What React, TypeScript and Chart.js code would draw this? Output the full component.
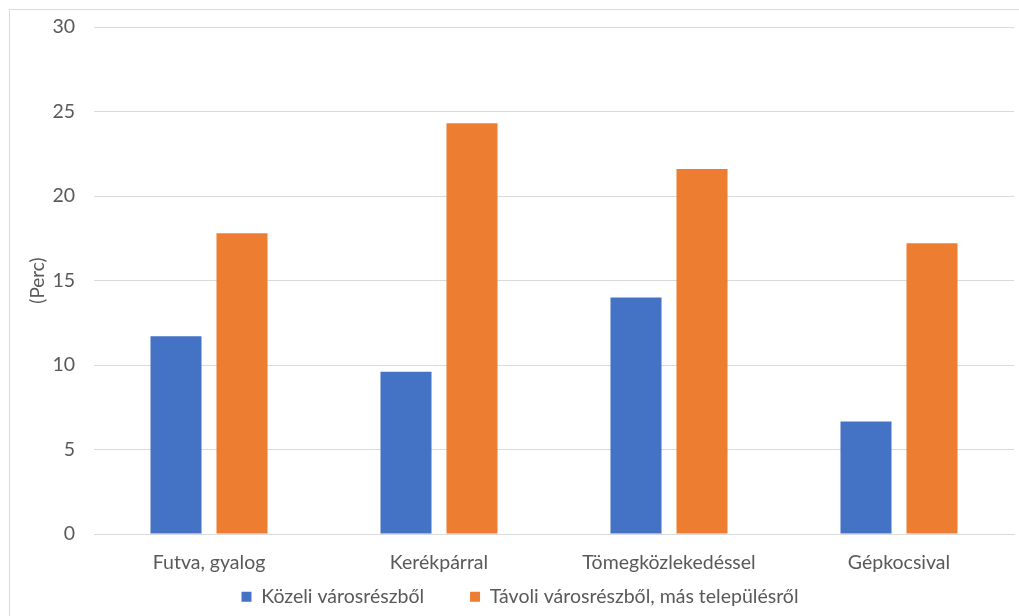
import React, { useEffect, useRef } from "react";
import { Chart, registerables } from "chart.js";

Chart.register(...registerables);

const categories = ["Futva, gyalog", "Kerékpárral", "Tömegközlekedéssel", "Gépkocsival"];
const seriesNames = ["Közeli városrészből", "Távoli városrészből, más településről"];
const nearValues = [11.7, 9.6, 14.0, 6.65];
const farValues = [17.8, 24.3, 21.6, 17.2];
const yTitle = "(Perc)";
const yMin = 0;
const yMax = 30;
const yStep = 5;

const FONT = "Lato, 'Open Sans', sans-serif";
const TEXT = "#595959";

const LEGEND_SHIFT = 37;

const shiftLegend = {
  id: "shiftLegend",
  afterLayout(chart: any) {
    const l = chart.legend;
    if (l) {
      l.top -= LEGEND_SHIFT;
      l.bottom -= LEGEND_SHIFT;
    }
  },
};

export default function App() {
  const ref = useRef<HTMLCanvasElement | null>(null);

  useEffect(() => {
    if (!ref.current) return;
    const chart = new Chart(ref.current, {
      type: "bar",
      plugins: [shiftLegend],
      data: {
        labels: categories,
        datasets: [
          {
            label: seriesNames[0],
            data: nearValues,
            backgroundColor: "#4472C4",
            categoryPercentage: 0.574,
            barPercentage: 0.773,
          },
          {
            label: seriesNames[1],
            data: farValues,
            backgroundColor: "#ED7D31",
            categoryPercentage: 0.574,
            barPercentage: 0.773,
          },
        ],
      },
      options: {
        animation: false,
        responsive: false,
        maintainAspectRatio: false,
        layout: { padding: { left: 26, right: 5, top: 27, bottom: -37.5 } },
        plugins: {
          tooltip: { enabled: false },
          legend: {
            position: "bottom",
            labels: {
              boxWidth: 10,
              boxHeight: 10,
              padding: 46,
              color: TEXT,
              font: { family: FONT, size: 19.5 },
            },
          },
        },
        scales: {
          x: {
            grid: { display: false, drawTicks: false },
            border: { display: true, color: "#d9d9d9", width: 1 },
            ticks: { color: TEXT, font: { family: FONT, size: 19.5 }, padding: 17 },
            afterFit: (s: any) => {
              s.height = 44;
            },
          },
          y: {
            min: yMin,
            max: yMax,
            ticks: {
              stepSize: yStep,
              color: TEXT,
              font: { family: FONT, size: 19.5 },
              padding: 19,
            },
            grid: { color: "#d9d9d9", drawTicks: false },
            border: { display: false },
            title: {
              display: true,
              text: yTitle,
              color: TEXT,
              font: { family: FONT, size: 19 },
              padding: { top: 0, bottom: 0 },
            },
            afterFit: (s: any) => {
              s.width = 68;
              s.paddingTop = 0;
              s.paddingBottom = 0;
            },
          },
        },
      },
    });
    return () => chart.destroy();
  }, []);

  return (
    <div style={{ position: "fixed", left: 0, top: 0, width: 1019, height: 616, background: "#fff" }}>
      <div
        style={{
          position: "absolute",
          left: 9,
          top: 9,
          width: 1040,
          height: 640,
          border: "1px solid #d9d9d9",
          boxSizing: "border-box",
        }}
      />
      <canvas ref={ref} width={1019} height={616} style={{ position: "absolute", left: 0, top: 0 }} />
    </div>
  );
}
